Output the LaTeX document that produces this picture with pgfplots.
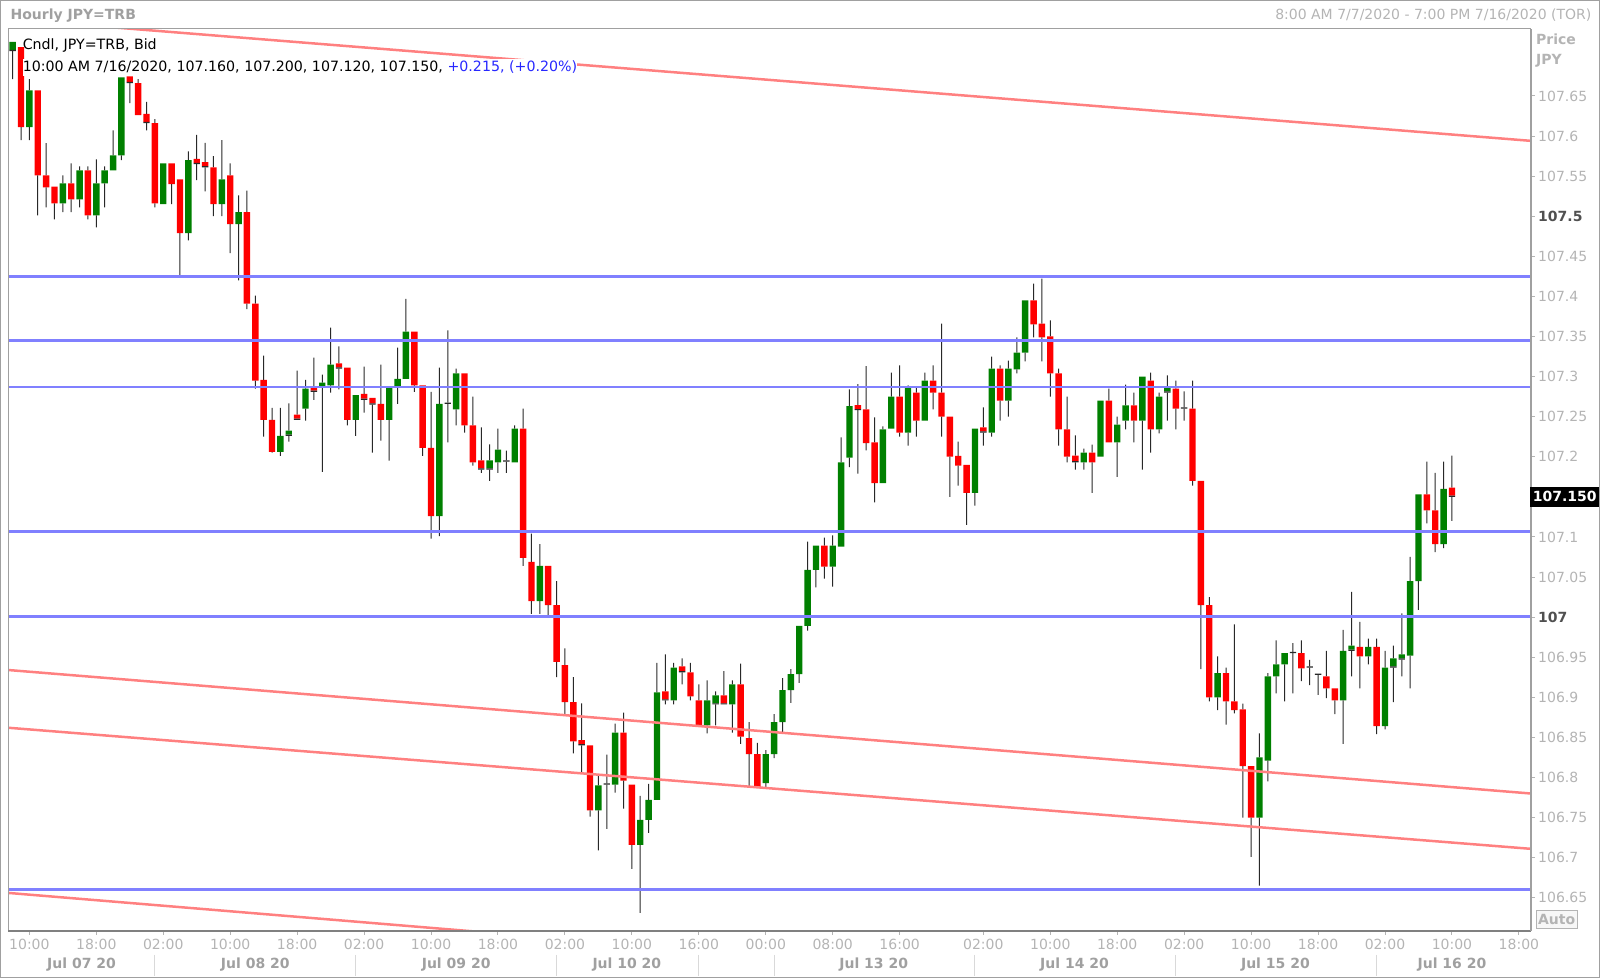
\documentclass[border=0pt]{standalone}
\usepackage{fontspec}
\setmainfont{DejaVu Sans}
\usepackage{pgfplots}
\usepackage{pgfplotstable}
\pgfplotsset{compat=1.18}

\definecolor{upcol}{RGB}{0,128,0}
\definecolor{dncol}{RGB}{255,0,0}
\definecolor{levelcol}{RGB}{128,128,255}
\definecolor{chancol}{RGB}{255,128,128}
\definecolor{lightlab}{RGB}{180,180,180}
\definecolor{datelab}{RGB}{160,160,160}
\definecolor{darklab}{RGB}{80,80,80}
\definecolor{framecol}{RGB}{160,160,160}
\definecolor{deltacol}{RGB}{40,40,255}
\definecolor{wickcol}{RGB}{40,40,40}

\pgfplotsset{
  chartbox/.style={at={(4.1pt,23.7pt)}, anchor=south west,
    scale only axis, width=761.2pt, height=451pt, xmin=-0.53, xmax=181.4}
}
\tikzset{
  daylabel/.style={text=datelab, font=\fontsize{7}{8}\selectfont\bfseries, inner sep=0pt, yshift=-16.85pt}
}

% hourly candles, i = bar index from 8:00 AM 7/7/2020
\pgfplotstableread{
i o h l c
0 107.706 107.716 107.671 107.716
1 107.711 107.711 107.595 107.611
2 107.611 107.671 107.595 107.657
3 107.657 107.657 107.501 107.551
4 107.551 107.591 107.511 107.536
5 107.537 107.537 107.496 107.516
6 107.516 107.551 107.505 107.541
7 107.541 107.566 107.505 107.521
8 107.521 107.562 107.511 107.557
9 107.557 107.562 107.496 107.501
10 107.501 107.571 107.486 107.541
11 107.541 107.562 107.511 107.557
12 107.557 107.607 107.557 107.576
13 107.576 107.673 107.570 107.673
14 107.673 107.673 107.641 107.666
15 107.666 107.671 107.626 107.626
16 107.626 107.641 107.607 107.616
17 107.616 107.621 107.511 107.516
18 107.515 107.566 107.515 107.566
19 107.566 107.566 107.515 107.540
20 107.546 107.546 107.426 107.479
21 107.479 107.581 107.470 107.570
22 107.570 107.600 107.545 107.565
23 107.566 107.590 107.531 107.561
24 107.561 107.575 107.500 107.515
25 107.515 107.595 107.500 107.546
26 107.551 107.566 107.454 107.490
27 107.490 107.526 107.420 107.505
28 107.505 107.532 107.384 107.391
29 107.391 107.401 107.285 107.295
30 107.296 107.326 107.225 107.246
31 107.246 107.261 107.205 107.206
32 107.206 107.261 107.201 107.226
33 107.226 107.265 107.219 107.231
34 107.251 107.306 107.246 107.246
35 107.260 107.296 107.245 107.285
36 107.286 107.322 107.271 107.281
37 107.286 107.301 107.181 107.291
38 107.289 107.361 107.280 107.315
39 107.315 107.336 107.284 107.310
40 107.311 107.311 107.239 107.246
41 107.246 107.277 107.226 107.277
42 107.277 107.311 107.255 107.271
43 107.272 107.272 107.205 107.265
44 107.266 107.315 107.220 107.246
45 107.246 107.286 107.195 107.286
46 107.286 107.336 107.266 107.297
47 107.297 107.397 107.297 107.356
48 107.356 107.356 107.281 107.289
49 107.289 107.289 107.201 107.211
50 107.211 107.281 107.098 107.126
51 107.126 107.311 107.101 107.266
52 107.266 107.356 107.218 107.266
53 107.259 107.310 107.239 107.304
54 107.304 107.304 107.230 107.239
55 107.239 107.275 107.189 107.193
56 107.194 107.235 107.180 107.184
57 107.184 107.214 107.170 107.194
58 107.193 107.235 107.180 107.209
59 107.194 107.206 107.180 107.194
60 107.193 107.239 107.193 107.235
61 107.235 107.260 107.064 107.074
62 107.069 107.104 107.004 107.020
63 107.020 107.091 107.004 107.064
64 107.064 107.064 107.002 107.015
65 107.015 107.045 106.925 106.944
66 106.940 106.961 106.879 106.894
67 106.894 106.925 106.830 106.845
68 106.845 106.891 106.805 106.840
69 106.840 106.840 106.751 106.759
70 106.759 106.802 106.709 106.790
71 106.791 106.827 106.736 106.791
72 106.791 106.867 106.781 106.856
73 106.856 106.881 106.761 106.796
74 106.791 106.791 106.686 106.716
75 106.716 106.777 106.631 106.747
76 106.747 106.792 106.731 106.772
77 106.772 106.943 106.772 106.906
78 106.906 106.952 106.891 106.896
79 106.896 106.943 106.891 106.937
80 106.937 106.947 106.916 106.931
81 106.931 106.943 106.896 106.901
82 106.896 106.916 106.865 106.865
83 106.865 106.921 106.855 106.896
84 106.891 106.906 106.865 106.901
85 106.901 106.931 106.891 106.891
86 106.891 106.921 106.856 106.916
87 106.916 106.942 106.842 106.851
88 106.849 106.869 106.789 106.829
89 106.829 106.843 106.787 106.788
90 106.793 106.834 106.787 106.829
91 106.829 106.879 106.824 106.869
92 106.869 106.924 106.855 106.909
93 106.909 106.935 106.893 106.929
94 106.929 106.989 106.918 106.989
95 106.989 107.094 106.983 107.059
96 107.059 107.089 107.037 107.089
97 107.089 107.099 107.048 107.063
98 107.063 107.102 107.038 107.089
99 107.088 107.224 107.088 107.193
100 107.199 107.284 107.187 107.263
101 107.263 107.289 107.179 107.258
102 107.259 107.313 107.208 107.217
103 107.218 107.249 107.143 107.167
104 107.167 107.238 107.167 107.234
105 107.235 107.305 107.235 107.275
106 107.275 107.314 107.225 107.230
107 107.230 107.289 107.214 107.286
108 107.280 107.286 107.225 107.245
109 107.245 107.305 107.245 107.295
110 107.295 107.314 107.259 107.280
111 107.280 107.366 107.225 107.250
112 107.250 107.250 107.150 107.200
113 107.201 107.219 107.164 107.189
114 107.190 107.190 107.115 107.155
115 107.155 107.235 107.139 107.235
116 107.235 107.260 107.214 107.230
117 107.230 107.325 107.225 107.310
118 107.310 107.314 107.245 107.270
119 107.270 107.320 107.250 107.310
120 107.309 107.349 107.304 107.330
121 107.330 107.395 107.319 107.395
122 107.395 107.416 107.349 107.365
123 107.366 107.422 107.319 107.349
124 107.350 107.370 107.275 107.304
125 107.304 107.310 107.214 107.234
126 107.234 107.275 107.193 107.200
127 107.200 107.225 107.184 107.193
128 107.193 107.210 107.184 107.205
129 107.205 107.215 107.155 107.193
130 107.200 107.270 107.200 107.270
131 107.270 107.285 107.218 107.218
132 107.218 107.250 107.175 107.240
133 107.245 107.290 107.234 107.264
134 107.264 107.280 107.218 107.245
135 107.245 107.300 107.184 107.300
136 107.295 107.305 107.205 107.234
137 107.234 107.280 107.229 107.275
138 107.280 107.300 107.245 107.285
139 107.285 107.295 107.234 107.260
140 107.260 107.280 107.245 107.260
141 107.260 107.295 107.164 107.170
142 107.170 107.170 106.935 107.015
143 107.015 107.025 106.895 106.900
144 106.900 106.951 106.884 106.930
145 106.930 106.937 106.866 106.895
146 106.895 106.991 106.880 106.884
147 106.885 106.892 106.750 106.814
148 106.814 106.814 106.701 106.750
149 106.750 106.855 106.665 106.825
150 106.821 106.930 106.795 106.926
151 106.926 106.971 106.905 106.941
152 106.941 106.955 106.895 106.955
153 106.955 106.966 106.905 106.955
154 106.955 106.971 106.920 106.936
155 106.937 106.945 106.915 106.937
156 106.928 106.928 106.903 106.928
157 106.926 106.958 106.899 106.911
158 106.911 106.911 106.879 106.896
159 106.896 106.984 106.842 106.958
160 106.958 107.030 106.926 106.963
161 106.963 106.994 106.911 106.951
162 106.951 106.973 106.941 106.963
163 106.963 106.973 106.854 106.864
164 106.864 106.958 106.860 106.937
165 106.937 106.963 106.894 106.947
166 106.947 107.003 106.926 106.952
167 106.952 107.075 106.911 107.045
168 107.045 107.153 107.009 107.153
169 107.153 107.194 107.117 107.133
170 107.133 107.180 107.081 107.091
171 107.091 107.194 107.086 107.160
172 107.160 107.200 107.120 107.150
}\candles

\begin{document}
\begin{tikzpicture}[font=\fontsize{7}{8}\selectfont]
\path[use as bounding box] (0pt,0pt) rectangle (800pt,489pt);
\draw[framecol, line width=0.5pt] (0.25pt,0.25pt) rectangle (799.75pt,488.75pt);

% candles: stacked bars measured from 106.5
\begin{axis}[chartbox, hide axis,
    ymin=0.109, ymax=1.234,
    ybar stacked, bar shift=0pt]
\addplot[draw=none, fill=none, bar width=0.5pt]
    table[x=i, y expr={\thisrow{l}-106.5}] {\candles};
\addplot[draw=none, fill=wickcol, bar width=0.5pt]
    table[x=i, y expr={min(\thisrow{o},\thisrow{c})-\thisrow{l}}] {\candles};
\addplot[draw=none, fill=wickcol, bar width=3.2pt]
    table[x=i, y expr={0.0015*(\thisrow{o}==\thisrow{c})}] {\candles};
\addplot[draw=none, fill=upcol, bar width=3.2pt]
    table[x=i, y expr={max(\thisrow{c}-\thisrow{o},0)}] {\candles};
\addplot[draw=none, fill=dncol, bar width=3.2pt]
    table[x=i, y expr={max(\thisrow{o}-\thisrow{c},0)}] {\candles};
\addplot[draw=none, fill=wickcol, bar width=0.5pt]
    table[x=i, y expr={\thisrow{h}-max(\thisrow{o},\thisrow{c})}] {\candles};
\end{axis}

\begin{axis}[chartbox,
    ymin=106.609, ymax=107.734,
    clip mode=individual,
    axis line style={draw=none},
    tick align=outside,
    major tick length=2pt,
    tick style={draw=lightlab, line width=0.5pt},
    xtick pos=left, ytick pos=right, yticklabel pos=right,
    xtick={2,10,18,26,34,42,50,58,66,74,82,90,98,106,116,124,132,140,148,156,164,172,180},
    xticklabels={10:00,18:00,02:00,10:00,18:00,02:00,10:00,18:00,02:00,10:00,16:00,00:00,08:00,16:00,02:00,10:00,18:00,02:00,10:00,18:00,02:00,10:00,18:00},
    xticklabel style={text=lightlab, inner sep=0pt, anchor=center, yshift=-4.7pt},
    ytick={106.65,106.7,106.75,106.8,106.85,106.9,106.95,107,107.05,107.1,107.15,107.2,107.25,107.3,107.35,107.4,107.45,107.5,107.55,107.6,107.65},
    yticklabels={106.65,106.7,106.75,106.8,106.85,106.9,106.95,\textbf{\textcolor{darklab}{107}},107.05,107.1,,107.2,107.25,107.3,107.35,107.4,107.45,\textbf{\textcolor{darklab}{107.5}},107.55,107.6,107.65},
    yticklabel style={text=lightlab, inner sep=0pt, anchor=west, xshift=1.6pt},
    scaled y ticks=false,
]

% horizontal levels
\addplot[levelcol, line width=1.25pt] coordinates {(-0.53,107.425) (181.4,107.425)};
\addplot[levelcol, line width=1.25pt] coordinates {(-0.53,107.345) (181.4,107.345)};
\addplot[levelcol, line width=1.25pt] coordinates {(-0.53,107.287) (181.4,107.287)};
\addplot[levelcol, line width=1.25pt] coordinates {(-0.53,107.107) (181.4,107.107)};
\addplot[levelcol, line width=1.25pt] coordinates {(-0.53,107.001) (181.4,107.001)};
\addplot[levelcol, line width=1.25pt] coordinates {(-0.53,106.660) (181.4,106.660)};

% falling channel
\addplot[chancol, line width=1.25pt] coordinates {(-0.53,107.746) (181.4,107.594)};
\addplot[chancol, line width=1.25pt] coordinates {(-0.53,106.934) (181.4,106.780)};
\addplot[chancol, line width=1.25pt] coordinates {(-0.53,106.862) (181.4,106.711)};
\addplot[chancol, line width=1.25pt] coordinates {(-0.53,106.656) (181.4,106.499)};

% frame
\draw[framecol, line width=0.5pt] (rel axis cs:0,0) -- (rel axis cs:0,1) -- (rel axis cs:1,1);
\draw[black!50, line width=1pt] (rel axis cs:0,0) -- (rel axis cs:1,0);
\draw[framecol, line width=1pt] (rel axis cs:1,0) -- (rel axis cs:1,1);

% day row
\pgfplotsinvokeforeach{17,41,65,82,91,115,139,163}{
  \draw[black!15, line width=0.5pt] (axis cs:#1,106.609) ++(0pt,-12.2pt) -- ++(0pt,-10.5pt);
}
\node[daylabel] at (axis cs:8.24,106.609) {Jul 07 20};
\node[daylabel] at (axis cs:29,106.609) {Jul 08 20};
\node[daylabel] at (axis cs:53,106.609) {Jul 09 20};
\node[daylabel] at (axis cs:73.4,106.609) {Jul 10 20};
\node[daylabel] at (axis cs:102.9,106.609) {Jul 13 20};
\node[daylabel] at (axis cs:126.9,106.609) {Jul 14 20};
\node[daylabel] at (axis cs:150.9,106.609) {Jul 15 20};
\node[daylabel] at (axis cs:172,106.609) {Jul 16 20};

% last price marker
\node[fill=black, text=white, font=\fontsize{7}{8}\selectfont\bfseries, inner sep=0pt,
  minimum width=34.7pt, minimum height=10.2pt, anchor=west, xshift=-0.5pt] at (axis cs:181.4,107.15) {107.150};
\end{axis}

\node[anchor=west, inner sep=0pt, text=datelab, font=\fontsize{7}{8}\selectfont\bfseries] at (5.1pt,481.35pt) {Hourly JPY=TRB};
\node[anchor=east, inner sep=0pt, text=lightlab] at (795.9pt,481.35pt) {8:00 AM 7/7/2020 - 7:00 PM 7/16/2020 (TOR)};
\node[anchor=west, inner sep=0pt, text=lightlab, font=\fontsize{7}{8}\selectfont\bfseries] at (767.9pt,469.6pt) {Price};
\node[anchor=west, inner sep=0pt, text=lightlab, font=\fontsize{7}{8}\selectfont\bfseries] at (767.9pt,458.6pt) {JPY};
\node[anchor=west, inner sep=0pt, font=\fontsize{7.1}{8}\selectfont] at (11.2pt,466.05pt) {Cndl, JPY=TRB, Bid};
\node[anchor=west, inner xsep=0pt, inner ysep=1.2pt, fill=white, font=\fontsize{7.1}{8}\selectfont] at (11.2pt,455.3pt) {10:00 AM 7/16/2020, 107.160, 107.200, 107.120, 107.150, \textcolor{deltacol}{+0.215, (+0.20\%)}};
\node[anchor=south west, draw=lightlab, fill=black!3, text=lightlab, font=\fontsize{7}{8}\selectfont\bfseries,
  inner sep=0pt, minimum width=20.4pt, minimum height=8.8pt] at (767.9pt,24.7pt) {Auto};
\end{tikzpicture}
\end{document}
